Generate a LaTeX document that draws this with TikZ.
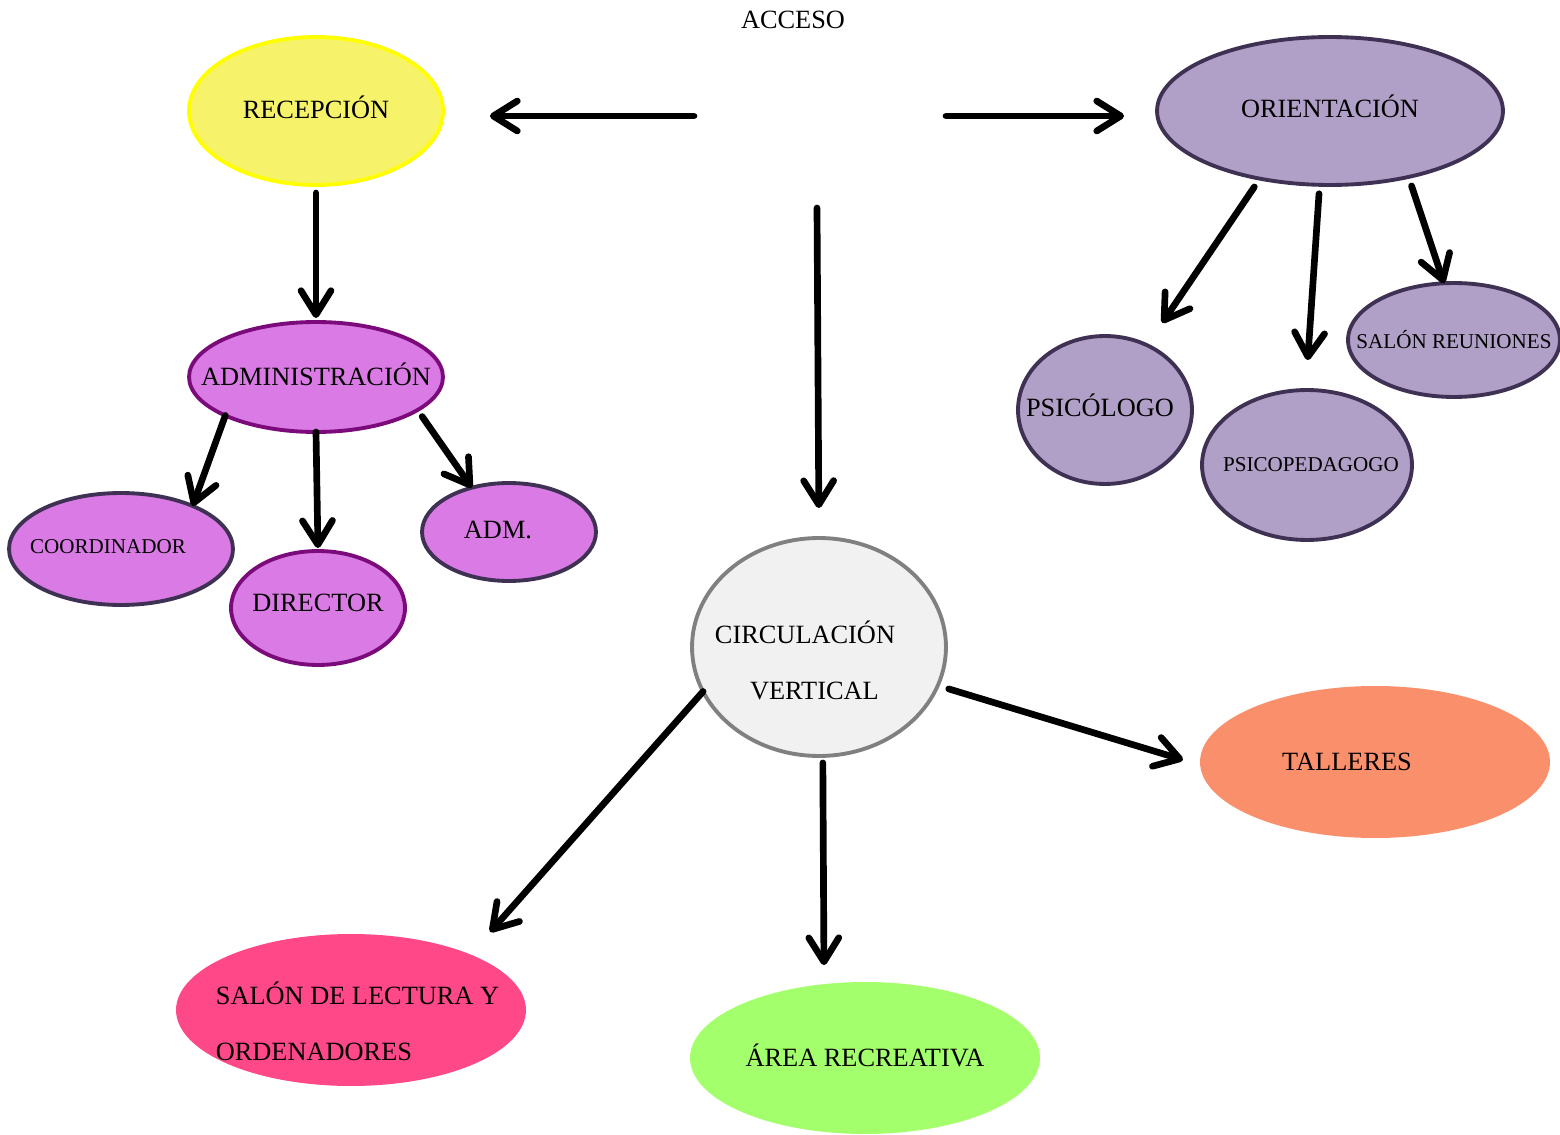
\documentclass[tikz,border=0pt]{standalone}
\usepackage{fontspec}
\setmainfont{Liberation Serif}
\usetikzlibrary{shapes.geometric,arrows.meta}

\definecolor{recfill}{HTML}{F6F36B}
\definecolor{recline}{HTML}{FFFF00}
\definecolor{orifill}{HTML}{B09FC6}
\definecolor{oriline}{HTML}{3F3153}
\definecolor{admfill}{HTML}{DA7AE4}
\definecolor{admline}{HTML}{7B0A7A}
\definecolor{circfill}{HTML}{F1F1F1}
\definecolor{circline}{HTML}{808080}
\definecolor{talfill}{HTML}{FA8F6B}
\definecolor{salfill}{HTML}{FF4887}
\definecolor{areafill}{HTML}{A3FF6B}

\tikzset{
  room/.style={ellipse, inner sep=0pt, outer sep=0pt, line width=2.2pt},
  link/.style={-{Straight Barb[length=0.48cm,width=0.6cm,round]}, line width=3.8pt, line cap=round},
  small/.style={font=\fontsize{12}{14}\selectfont},
}

\begin{document}
\begin{tikzpicture}[x=0.02cm, y=-0.02cm, every node/.style={font=\fontsize{15}{18}\selectfont}]
            \useasboundingbox (0,0) rectangle (1560,1135);

            % acceso
            \node (acc) at (793,20) {ACCESO};
            \coordinate (accW) at (694,116);
            \coordinate (accE) at (946,116);
            \coordinate (accS) at (817,208);

            % left branch
            \node[room, draw=recline, fill=recfill, minimum width=5.08cm, minimum height=2.96cm,
                  label={[yshift=0.08cm]center:RECEPCIÓN}] (rec) at (316,111) {};
            \node[room, draw=admline, fill=admfill, minimum width=5.08cm, minimum height=2.2cm,
                  label={[yshift=0.06cm]center:ADMINISTRACIÓN}] (adm) at (316,377) {};
            \node[room, draw=oriline, fill=admfill, minimum width=4.48cm, minimum height=2.24cm,
                  label={[small, xshift=-0.26cm, yshift=0.04cm]center:COORDINADOR}] (coord) at (121,549) {};
            \node[room, draw=admline, fill=admfill, minimum width=3.48cm, minimum height=2.28cm,
                  label={[yshift=0.1cm]center:DIRECTOR}] (dir) at (318,608) {};
            \node[room, draw=oriline, fill=admfill, minimum width=3.48cm, minimum height=1.96cm,
                  label={[xshift=-0.22cm, yshift=0.04cm]center:ADM.}] (admb) at (509,532) {};

            % right branch
            \node[room, draw=oriline, fill=orifill, minimum width=6.92cm, minimum height=2.96cm,
                  label={[yshift=0.1cm]center:ORIENTACIÓN}] (ori) at (1330,111) {};
            \node[room, draw=oriline, fill=orifill, minimum width=3.48cm, minimum height=2.96cm,
                  label={[xshift=-0.1cm, yshift=0.1cm]center:PSICÓLOGO}] (psi) at (1105,410) {};
            \node[room, draw=oriline, fill=orifill, minimum width=4.2cm, minimum height=3.0cm,
                  label={[small, xshift=0.08cm]center:PSICOPEDAGOGO}] (psped) at (1307,465) {};
            \node[room, draw=oriline, fill=orifill, minimum width=4.24cm, minimum height=2.28cm,
                  label={[small]center:SALÓN REUNIONES}] (reun) at (1454,340) {};

            % centre branch
            \node[room, draw=circline, fill=circfill, minimum width=5.08cm, minimum height=4.36cm,
                  label={[align=left, font=\fontsize{15}{32}\selectfont, xshift=-0.28cm, yshift=-0.26cm]center:{CIRCULACIÓN\\\hspace*{20pt}VERTICAL}}] (circ) at (819,647) {};
            \node[room, fill=talfill, minimum width=7cm, minimum height=3.04cm,
                  label={[xshift=-0.56cm]center:TALLERES}] (tal) at (1375,762) {};
            \node[room, fill=salfill, minimum width=7cm, minimum height=3.04cm,
                  label={[align=left, font=\fontsize{15}{32}\selectfont, xshift=0.13cm, yshift=-0.22cm]center:{SALÓN DE LECTURA Y\\ORDENADORES}}] (lect) at (351,1010) {};
            \node[room, fill=areafill, minimum width=7cm, minimum height=3.04cm,
                  label={[yshift=0.05cm]center:ÁREA RECREATIVA}] (area) at (865,1058) {};

            % arrows
            \draw[link, shorten >=0.94cm] (accW) -- (accW -| rec.east);
            \draw[link, shorten >=0.66cm] (accE) -- (accE -| ori.west);
            \draw[link, shorten >=0.6cm] (accS) -- (circ.north);

            \draw[link, shorten <=0.16cm, shorten >=0.08cm] (rec.south) -- (adm.north);
            \draw[link] (adm.203) -- (coord.31);
            \draw[link, shorten >=0.06cm] (adm.south) -- (dir.north);
            \draw[link, shorten <=0.16cm] (adm.-18) -- (admb.130);

            \draw[link, shorten <=0.2cm, shorten >=0.54cm] (ori.224) -- (psi.57);
            \draw[link, shorten <=0.18cm, shorten >=0.6cm] (ori.262) -- (psped.91);
            \draw[link, shorten <=0.19cm] (ori.-40) -- (reun.100);

            \draw[link, shorten >=0.6cm] (circ.201) -- (lect.25);
            \draw[link, shorten <=0.14cm, shorten >=0.38cm] (circ.272) -- (area.119);
            \draw[link, shorten <=0.23cm, shorten >=0.36cm] (circ.-18) -- (tal.181);
        \end{tikzpicture}
\end{document}
